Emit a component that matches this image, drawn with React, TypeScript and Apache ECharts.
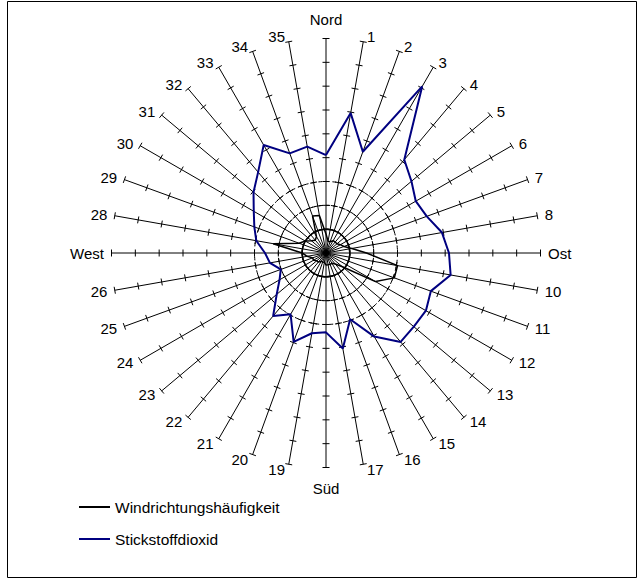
import React, { useEffect, useRef } from "react";
import * as echarts from "echarts";

const dirLabels = [
  "Nord", "1", "2", "3", "4", "5", "6", "7", "8", "Ost",
  "10", "11", "12", "13", "14", "15", "16", "17", "Süd",
  "19", "20", "21", "22", "23", "24", "25", "26", "West",
  "28", "29", "30", "31", "32", "33", "34", "35",
];

const windFreq = [
  0.8, 0.5, 0.5, 0.6, 0.6, 0.6, 0.7, 0.8, 1.1, 1.7,
  3.05, 3.05, 2.4, 0.9, 0.6, 0.5, 0.5, 0.5, 0.5,
  0.4, 0.4, 0.4, 0.5, 0.5, 0.6, 0.6, 0.8, 1.0,
  2.25, 1.2, 1.0, 0.8, 0.7, 0.8, 1.65, 1.6,
];

const no2 = [
  4.11, 5.96, 4.52, 8.07, 5.11, 4.68, 4.35, 4.5, 4.94, 5.16,
  5.31, 4.68, 4.84, 4.81, 4.87, 4.05, 2.96, 4.07, 3.33,
  3.42, 3.97, 2.97, 3.45, 2.7, 2.25, 2.02, 2.39, 2.56,
  2.97, 3.2, 3.5, 3.97, 4.43, 5.23, 4.45, 4.53,
];

const rings = [1, 2, 3];
const ringDashed = [false, true, true];
const tickValues = [1, 2, 3, 4, 5, 6, 7, 8, 9];
const R_MAX = 9;
const STEP = 360 / dirLabels.length;

const toPolar = (arr: number[]) =>
  arr.map((v, i) => [v, i * STEP]).concat([[arr[0], 360]]);

export default function App() {
  const ref = useRef<HTMLDivElement>(null);
  useEffect(() => {
    if (!ref.current) return;
    const chart = echarts.init(ref.current, null, { renderer: "svg" });
    const font = "'Liberation Sans', Arial, sans-serif";
    chart.setOption({
      animation: false,
      backgroundColor: "#fff",
      graphic: [
        {
          type: "rect",
          shape: { x: 7.5, y: 1.5, width: 629, height: 576 },
          style: { fill: "none", stroke: "#000", lineWidth: 1 },
          silent: true,
        },
      ],
      polar: { center: [326, 253], radius: 214.5 },
      angleAxis: {
        type: "value",
        min: 0,
        max: 360,
        interval: STEP,
        startAngle: 90,
        clockwise: true,
        axisLine: { show: false },
        axisTick: { show: false },
        splitLine: { show: true, lineStyle: { color: "#000", width: 1 } },
        axisLabel: { show: false },
      },
      radiusAxis: {
        min: 0,
        max: R_MAX,
        interval: 1,
        axisLine: { show: false },
        axisTick: { show: false },
        axisLabel: { show: false },
        splitLine: { show: false },
      },
      legend: {
        orient: "vertical",
        left: 79,
        top: 499,
        padding: 0,
        itemWidth: 31,
        itemHeight: 2,
        itemGap: 16,
        icon: "rect",
        textStyle: { color: "#000", fontSize: 15.5, fontFamily: font },
        data: ["Windrichtungshäufigkeit", "Stickstoffdioxid"],
      },
      series: [
        {
          type: "custom",
          coordinateSystem: "polar",
          silent: true,
          clip: false,
          z: 1,
          data: rings.map((r, i) => [r, 0, i]),
          renderItem: (params: any, api: any) => {
            const c = api.coord([0, 0]);
            const p = api.coord([api.value(0), 0]);
            const rr = Math.hypot(p[0] - c[0], p[1] - c[1]);
            const dashed = ringDashed[api.value(2)];
            return {
              type: "circle",
              shape: { cx: c[0], cy: c[1], r: rr },
              style: {
                fill: "none",
                stroke: "#000",
                lineWidth: dashed ? 1 : 1.5,
                lineDash: dashed ? [4, 3] : null,
              },
            };
          },
        },
        {
          type: "custom",
          coordinateSystem: "polar",
          silent: true,
          clip: false,
          z: 1,
          data: dirLabels.map((_, i) => [0, i * STEP]),
          renderItem: (params: any, api: any) => {
            const ang = api.value(1);
            const c = api.coord([0, ang]);
            const children = tickValues.map((k) => {
              const p = api.coord([k, ang]);
              const dx = p[0] - c[0];
              const dy = p[1] - c[1];
              const len = Math.hypot(dx, dy) || 1;
              const nx = -dy / len;
              const ny = dx / len;
              const h = 3.5;
              return {
                type: "line",
                shape: {
                  x1: p[0] - nx * h,
                  y1: p[1] - ny * h,
                  x2: p[0] + nx * h,
                  y2: p[1] + ny * h,
                },
                style: { stroke: "#000", lineWidth: 1 },
              };
            });
            return { type: "group", children };
          },
        },
        {
          type: "custom",
          coordinateSystem: "polar",
          silent: true,
          clip: false,
          z: 2,
          data: dirLabels.map((_, i) => [R_MAX, i * STEP, i]),
          renderItem: (params: any, api: any) => {
            const ang = api.value(1);
            const idx = api.value(2);
            const p = api.coord([R_MAX, ang]);
            const t = (ang * Math.PI) / 180;
            const s = Math.sin(t);
            const co = Math.cos(t);
            let x = p[0];
            let y = p[1] - 5 * co;
            let align = "center";
            if (s > 0.01) {
              align = "left";
              x = p[0] + 3 + 4.5 * Math.abs(s);
            } else if (s < -0.01) {
              align = "right";
              x = p[0] - 3 - 4.5 * Math.abs(s);
            } else {
              y = co > 0 ? p[1] - 19 : p[1] + 21;
            }
            return {
              type: "text",
              x,
              y,
              style: {
                text: dirLabels[idx],
                fill: "#000",
                fontSize: 15,
                fontFamily: font,
                align,
                verticalAlign: "middle",
              },
            };
          },
        },
        {
          name: "Stickstoffdioxid",
          type: "line",
          coordinateSystem: "polar",
          data: toPolar(no2),
          symbol: "none",
          z: 3,
          color: "#000080",
          lineStyle: { color: "#000080", width: 2 },
        },
        {
          name: "Windrichtungshäufigkeit",
          type: "line",
          coordinateSystem: "polar",
          data: toPolar(windFreq),
          symbol: "none",
          z: 4,
          color: "#000",
          lineStyle: { color: "#000", width: 1.5 },
        },
      ],
    });
    return () => chart.dispose();
  }, []);
  return (
    <div
      ref={ref}
      style={{ position: "absolute", left: 0, top: 0, width: 642, height: 583 }}
    />
  );
}
